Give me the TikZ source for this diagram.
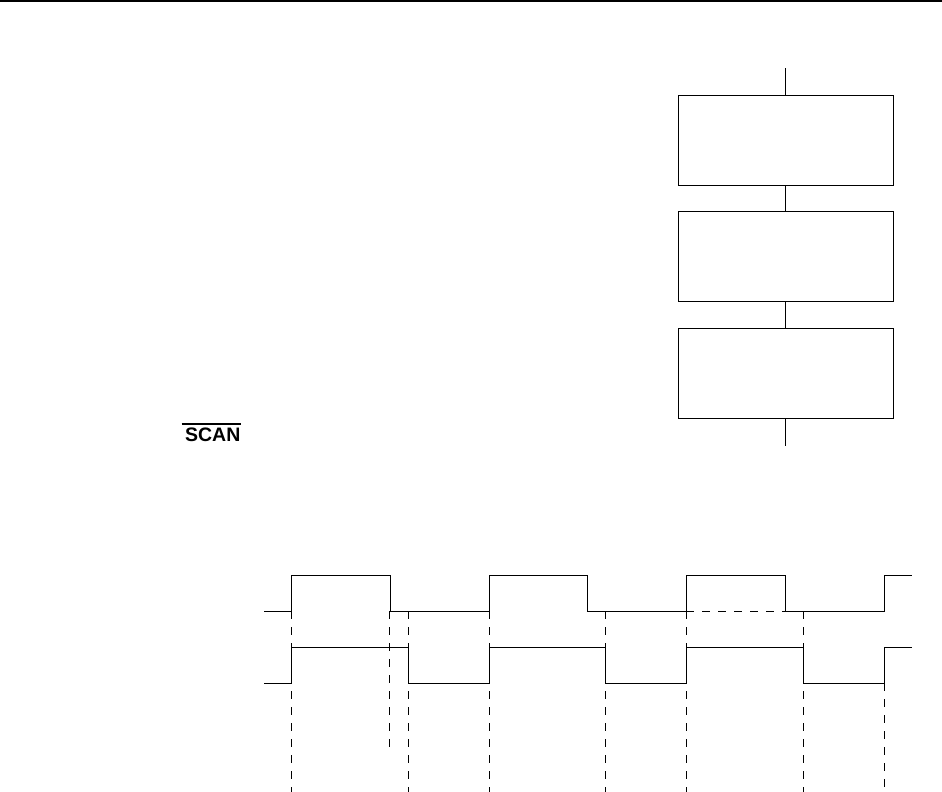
\documentclass[tikz,border=0pt]{standalone}
\usepackage{fontspec}
\setmainfont{Liberation Sans}
\begin{document}
\begin{tikzpicture}[x=1pt,y=-1pt,line width=1.2pt,
  blk/.style={draw,rectangle,minimum width=215pt,minimum height=90pt,inner sep=0pt,line width=1.2pt},
  wave/.style={line width=1.2pt,line join=miter},
  guide/.style={line width=1.2pt,dash pattern=on 8pt off 8pt}]
\useasboundingbox (0,0) rectangle (942,792);
\fill (0,0) rectangle (942,2.2);
% flow boxes
\node[blk] (b1) at (785.8,140.2) {};
\node[blk] (b2) at (785.8,256.8) {};
\node[blk] (b3) at (785.8,373.2) {};
\coordinate (tin) at (785.8,68.3);
\coordinate (tout) at (785.8,445.7);
\draw (tin) -- (b1.north);
\draw (b1.south) -- (b2.north);
\draw (b2.south) -- (b3.north);
\draw (b3.south) -- (tout);
% label
\node[font=\bfseries\fontsize{19.5}{20}\selectfont,inner sep=0pt,anchor=south west] (scan) at (184.5,441.8) {SCAN};
\draw[line width=1.5pt] (181.7,424) -- (240.7,424);
% waveform 1
\draw[wave] (264,611.3) -- (291.3,611.3) -- (291.3,575.3) -- (390.3,575.3) -- (390.3,611.3)
  -- (489.3,611.3) -- (489.3,575.3) -- (587.5,575.3) -- (587.5,611.3) -- (686.3,611.3)
  -- (686.3,575.3) -- (785.3,575.3) -- (785.3,611.3) -- (884.3,611.3) -- (884.3,575.3) -- (911.7,575.3);
\draw[guide] (686.3,611.3) -- (785.3,611.3);
% waveform 2
\draw[wave] (264,683.3) -- (291.3,683.3) -- (291.3,647.3) -- (408.3,647.3) -- (408.3,683.3)
  -- (489.3,683.3) -- (489.3,647.3) -- (605.3,647.3) -- (605.3,683.3) -- (686.3,683.3)
  -- (686.3,647.3) -- (803.3,647.3) -- (803.3,683.3) -- (884.3,683.3) -- (884.3,647.3) -- (911.7,647.3);
% guide lines
\foreach \x in {291.3,408.3,489.3,605.3,686.3,803.3} \draw[guide] (\x,611.3) -- (\x,792);
\draw[guide] (389.5,611.3) -- (389.5,748);
\draw[guide] (884.3,683.3) -- (884.3,792);
\end{tikzpicture}
\end{document}
